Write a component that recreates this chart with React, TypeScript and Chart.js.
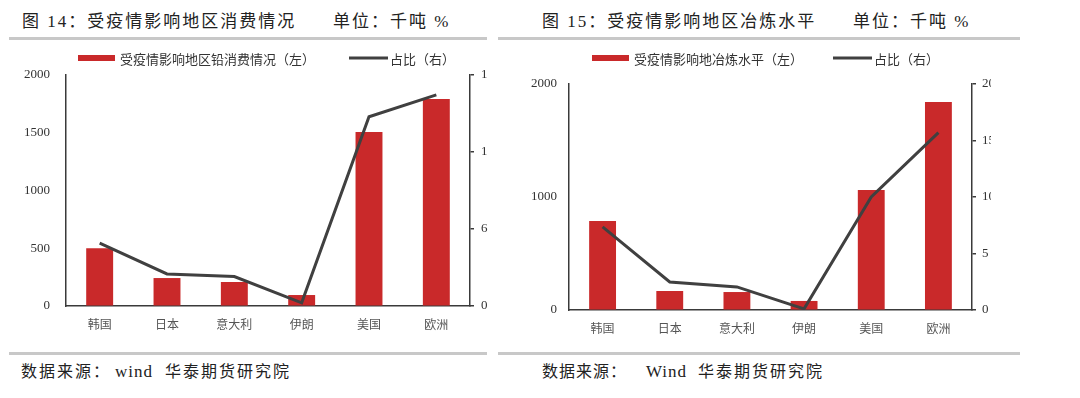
import React, { useEffect, useRef } from 'react';
import { Chart, registerables } from 'chart.js';

Chart.register(...registerables);

// ---------- data ----------
const categories = ['韩国', '日本', '意大利', '伊朗', '美国', '欧洲'];

const leadConsumption = [500, 242, 208, 95, 1506, 1792]; // 千吨
const leadConsumptionShare = [4.9, 2.5, 2.3, 0.25, 14.75, 16.45]; // %

const smeltingOutput = [788, 168, 159, 80, 1062, 1841]; // 千吨
const smeltingShare = [7.35, 2.48, 2.04, 0.1, 10.0, 15.7]; // %

const leftAxisTicks1 = { max: 2000, step: 500 };
const rightAxisTicks1 = { max: 18, step: 6 };
const leftAxisTicks2 = { max: 2000, step: 1000 };
const rightAxisTicks2 = { max: 20, step: 5 };

// ---------- styles ----------
const BAR_COLOR = '#c9292a';
const LINE_COLOR = '#404040';
const AXIS_COLOR = '#3a3a3a';
const CJK = '"Noto Sans CJK SC", sans-serif';
const SERIF = '"Liberation Serif", "Times New Roman", serif';

type LegendItem = { kind: 'bar' | 'line'; label: string; x: number };

function makeLegendPlugin(items: LegendItem[], y: number) {
  return {
    id: 'customLegend',
    afterDraw(chart: any) {
      const ctx = chart.ctx as CanvasRenderingContext2D;
      ctx.save();
      ctx.font = '13px ' + CJK;
      ctx.textBaseline = 'middle';
      items.forEach((it) => {
        if (it.kind === 'bar') {
          ctx.fillStyle = BAR_COLOR;
          ctx.fillRect(it.x, y - 3, 37, 6);
        } else {
          ctx.strokeStyle = LINE_COLOR;
          ctx.lineWidth = 3;
          ctx.beginPath();
          ctx.moveTo(it.x, y);
          ctx.lineTo(it.x + 39, y);
          ctx.stroke();
        }
        ctx.fillStyle = '#333';
        ctx.fillText(it.label, it.x + (it.kind === 'bar' ? 42 : 41), y + 1);
      });
      ctx.restore();
    },
  };
}

type ComboProps = {
  left: number;
  top: number;
  canvasW: number;
  canvasH: number;
  clipW: number;
  barLabel: string;
  lineLabel: string;
  barData: number[];
  lineData: number[];
  leftAxis: { max: number; step: number };
  rightAxis: { max: number; step: number };
  leftWidth: number;
  rightWidth: number;
  topPad: number;
  xHeight: number;
  leftTickPad: number;
  rightTickPad: number;
  legendItems: LegendItem[];
  legendY: number;
};

const plain = (v: any) => String(v);

function ComboChart(p: ComboProps) {
  const ref = useRef<HTMLCanvasElement | null>(null);
  useEffect(() => {
    if (!ref.current) return;
    const chart = new Chart(ref.current, {
      type: 'bar',
      data: {
        labels: categories,
        datasets: [
          {
            type: 'line',
            label: p.lineLabel,
            data: p.lineData,
            borderColor: LINE_COLOR,
            backgroundColor: LINE_COLOR,
            borderWidth: 3,
            pointRadius: 0,
            tension: 0,
            fill: false,
            yAxisID: 'yR',
            order: 1,
          } as any,
          {
            type: 'bar',
            label: p.barLabel,
            data: p.barData,
            backgroundColor: BAR_COLOR,
            barPercentage: 0.4,
            categoryPercentage: 1,
            yAxisID: 'yL',
            order: 2,
          } as any,
        ],
      },
      options: {
        responsive: false,
        animation: false,
        layout: { padding: { top: p.topPad, left: 0, right: 0, bottom: 0 } },
        plugins: { legend: { display: false }, tooltip: { enabled: false } },
        scales: {
          x: {
            type: 'category',
            offset: true,
            grid: { display: true, drawOnChartArea: false, drawTicks: false },
            border: { display: true, color: AXIS_COLOR, width: 1.5 },
            ticks: { font: { family: CJK, size: 12 }, color: '#555', padding: 11, maxRotation: 0 },
            afterFit: (s: any) => {
              s.height = p.xHeight;
            },
          },
          yL: {
            position: 'left',
            min: 0,
            max: p.leftAxis.max,
            ticks: {
              stepSize: p.leftAxis.step,
              font: { family: SERIF, size: 13 },
              color: '#333',
              padding: p.leftTickPad,
              callback: plain,
            },
            grid: { display: true, drawOnChartArea: false, drawTicks: false },
            border: { display: true, color: AXIS_COLOR, width: 1.5 },
            afterFit: (s: any) => {
              s.width = p.leftWidth;
            },
          },
          yR: {
            position: 'right',
            min: 0,
            max: p.rightAxis.max,
            ticks: {
              stepSize: p.rightAxis.step,
              font: { family: SERIF, size: 13 },
              color: '#333',
              padding: p.rightTickPad,
              callback: plain,
            },
            grid: {
              display: true,
              drawOnChartArea: false,
              drawTicks: true,
              tickLength: 4,
              color: AXIS_COLOR,
              lineWidth: 1.5,
            },
            border: { display: true, color: AXIS_COLOR, width: 1.5 },
            afterFit: (s: any) => {
              s.width = p.rightWidth;
            },
          },
        },
      } as any,
      plugins: [makeLegendPlugin(p.legendItems, p.legendY)],
    });
    return () => chart.destroy();
  }, []);
  return (
    <div
      style={{
        position: 'absolute',
        left: p.left,
        top: p.top,
        width: p.clipW,
        height: p.canvasH,
        overflow: 'hidden',
      }}
    >
      <canvas
        ref={ref}
        width={p.canvasW}
        height={p.canvasH}
        style={{ width: p.canvasW, height: p.canvasH, display: 'block' }}
      />
    </div>
  );
}

const textBase: React.CSSProperties = {
  position: 'absolute',
  whiteSpace: 'nowrap',
  color: '#222',
  fontFamily: '"Liberation Serif", "Noto Sans CJK SC", serif',
};

function Txt(props: { x: number; y: number; size: number; spacing?: number; children: React.ReactNode }) {
  return (
    <div
      style={{
        ...textBase,
        left: props.x,
        top: props.y - 10,
        lineHeight: '20px',
        fontSize: props.size,
        letterSpacing: props.spacing ?? 0,
      }}
    >
      {props.children}
    </div>
  );
}

function Rule(props: { x: number; y: number; w: number }) {
  return (
    <div
      style={{
        position: 'absolute',
        left: props.x,
        top: props.y,
        width: props.w,
        height: 3,
        background: '#c8c8c8',
      }}
    />
  );
}

export default function App() {
  return (
    <div
      style={{
        position: 'absolute',
        left: 0,
        top: 0,
        width: 1080,
        height: 398,
        background: '#fff',
        overflow: 'hidden',
      }}
    >
      {/* titles */}
      <Txt x={22} y={22} size={17} spacing={2}>图 14：受疫情影响地区消费情况</Txt>
      <Txt x={333} y={22} size={17} spacing={2}>单位：千吨 %</Txt>
      <Txt x={542} y={22} size={17} spacing={2}>图 15：受疫情影响地区冶炼水平</Txt>
      <Txt x={853} y={22} size={17} spacing={2}>单位：千吨 %</Txt>

      <Rule x={9} y={37} w={478} />
      <Rule x={498} y={37} w={522} />

      <ComboChart
        left={0}
        top={40}
        canvasW={500}
        canvasH={300}
        clipW={488}
        barLabel="受疫情影响地区铅消费情况（左）"
        lineLabel="占比（右）"
        barData={leadConsumption}
        lineData={leadConsumptionShare}
        leftAxis={leftAxisTicks1}
        rightAxis={rightAxisTicks1}
        leftWidth={66}
        rightWidth={30}
        topPad={35}
        xHeight={34}
        leftTickPad={16}
        rightTickPad={7}
        legendItems={[
          { kind: 'bar', label: '受疫情影响地区铅消费情况（左）', x: 78 },
          { kind: 'line', label: '占比（右）', x: 349 },
        ]}
        legendY={18}
      />

      <ComboChart
        left={500}
        top={40}
        canvasW={500}
        canvasH={300}
        clipW={491}
        barLabel="受疫情影响地冶炼水平（左）"
        lineLabel="占比（右）"
        barData={smeltingOutput}
        lineData={smeltingShare}
        leftAxis={leftAxisTicks2}
        rightAxis={rightAxisTicks2}
        leftWidth={69}
        rightWidth={28}
        topPad={44}
        xHeight={30}
        leftTickPad={12}
        rightTickPad={6}
        legendItems={[
          { kind: 'bar', label: '受疫情影响地冶炼水平（左）', x: 92 },
          { kind: 'line', label: '占比（右）', x: 333 },
        ]}
        legendY={18}
      />

      <Rule x={9} y={352} w={478} />
      <Rule x={498} y={352} w={522} />

      <Txt x={21} y={372} size={16} spacing={2}>数据来源：</Txt>
      <Txt x={115} y={372} size={17} spacing={1}>wind</Txt>
      <Txt x={165} y={372} size={16} spacing={2}>华泰期货研究院</Txt>

      <Txt x={542} y={372} size={16} spacing={1}>数据来源：</Txt>
      <Txt x={646} y={372} size={17} spacing={1}>Wind</Txt>
      <Txt x={698} y={372} size={16} spacing={2}>华泰期货研究院</Txt>
    </div>
  );
}
